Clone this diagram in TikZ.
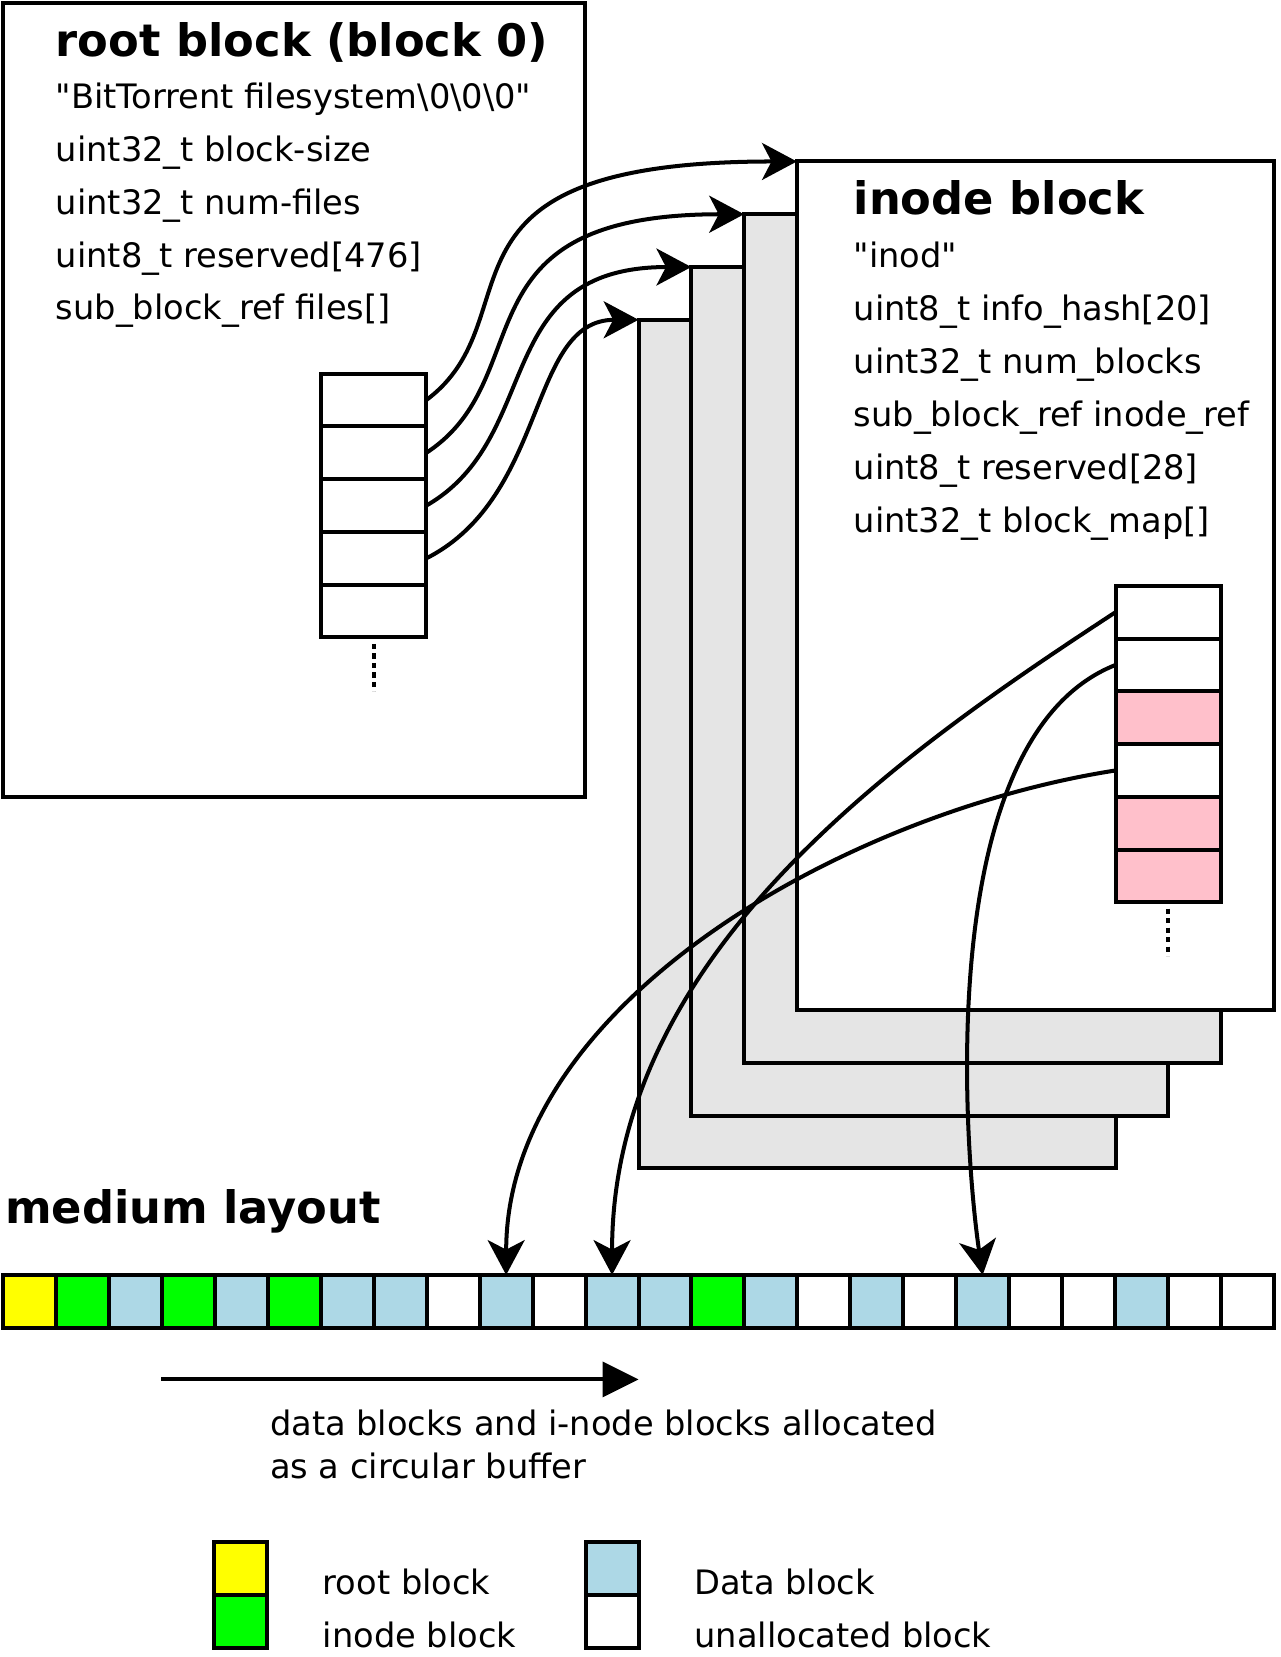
\documentclass[tikz,border=0pt]{standalone}
\usepackage{fontspec}
\setmainfont{DejaVu Sans}[Ligatures=TeXOff]
\usepackage{tikz}
\usetikzlibrary{positioning, arrows.meta, calc}
\definecolor{rootyellow}{HTML}{FFFF00}
\definecolor{inodegreen}{HTML}{00FF00}
\definecolor{datablue}{HTML}{ADD8E6}
\definecolor{refpink}{HTML}{FFC0CB}
\definecolor{stackgray}{HTML}{E5E5E5}

\begin{document}
\begin{tikzpicture}[
        x=1pt, y=-1pt,
        line width=3.8pt,
        heading/.style={font=\fontsize{42.4}{50}\selectfont\bfseries, anchor=base west, inner sep=0pt},
        field/.style={font=\fontsize{31.9}{40}\selectfont, anchor=base west, inner sep=0pt},
        frame/.style={rectangle, draw, anchor=north west, outer sep=0pt, inner sep=0pt},
        sheet/.style={frame, minimum width=452pt, minimum height=804pt},
        slot/.style={frame, minimum width=100pt, minimum height=50pt},
        cell/.style={frame, minimum width=50.167pt, minimum height=50pt},
        link/.style={-{Stealth[length=33pt, width=35pt, inset=9pt]}},
        dots/.style={dash pattern=on 5pt off 4pt}
    ]
    \useasboundingbox (0,0) rectangle (1213,1570);

    % root block with its fields
    \node[frame, minimum width=551pt, minimum height=752pt] (root) at (3,3) {};
    \node[heading] (roottitle) at (51,54) {root block (block 0)};
    \foreach \txt [count=\i] in {"BitTorrent filesystem\textbackslash 0\textbackslash 0\textbackslash 0", uint32\_t block-size, uint32\_t num-files, uint8\_t reserved[476], sub\_block\_ref files[]} {
        \node[field] at (51, 53+50*\i) {\txt};
    }
    \foreach \i in {1,...,5} {
        \node[slot] (r\i) at (304, 304+50*\i) {};
    }
    \draw[dots] ([yshift=-6pt]r5.south) -- ([yshift=-51pt]r5.south);

    % stack of inode blocks, front one last
    \foreach \k in {0,1,2} {
        \node[sheet, fill=stackgray] (sheet\k) at (605+50*\k, 303-50*\k) {};
    }
    \node[sheet, fill=white] (sheet3) at (755,153) {};
    \node[heading] (inodetitle) at (807,203) {inode block};
    \foreach \txt [count=\i] in {"inod", uint8\_t info\_hash[20], uint32\_t num\_blocks, sub\_block\_ref inode\_ref, uint8\_t reserved[28], uint32\_t block\_map[]} {
        \node[field] at (807, 203+50.3*\i) {\txt};
    }
    \foreach \i/\c in {1/white, 2/white, 3/refpink, 4/white, 5/refpink, 6/refpink} {
        \node[slot, fill=\c] (b\i) at (1057, 505+50*\i) {};
    }
    \draw[dots] ([yshift=-6pt]b6.south) -- ([yshift=-51pt]b6.south);

    % medium layout
    \node[heading] (mediumtitle) at (3,1159) {medium layout};
    \foreach \c [count=\i from 0] in {rootyellow, inodegreen, datablue, inodegreen, datablue, inodegreen, datablue, datablue, white, datablue, white, datablue, datablue, inodegreen, datablue, white, datablue, white, datablue, white, white, datablue, white, white} {
        \node[cell, fill=\c] (m\i) at (3+50.167*\i, 1208) {};
    }

    \coordinate (flowstart) at (153,1307);
    \coordinate (flowend) at (605,1307);
    \draw[-{Triangle[length=34pt, width=33pt]}] (flowstart) -- (flowend);
    \node[field] (flownote) at (254,1360) {data blocks and i-node blocks allocated};
    \node[field] at (254,1401) {as a circular buffer};

    % legend
    \node[cell, minimum width=50pt, fill=rootyellow] (keyroot) at (203,1461) {};
    \node[cell, minimum width=50pt, fill=inodegreen] (keyinode) at (203,1511) {};
    \node[field] at (304,1511) {root block};
    \node[field] at (304,1561) {inode block};
    \node[cell, minimum width=50pt, fill=datablue] (keydata) at (555,1461) {};
    \node[cell, minimum width=50pt, fill=white] (keyfree) at (555,1511) {};
    \node[field] at (656,1511) {Data block};
    \node[field] at (656,1561) {unallocated block};

    % references into the inode blocks
    \foreach \i/\s/\dx/\dy/\back in {1/3/106/-79/-365, 2/2/110/-72/-278, 3/1/113/-65/-192, 4/0/116/-59/-105} {
        \draw[link] (r\i.east) .. controls +(\dx,\dy) and +(\back,0) .. (sheet\s.north west);
    }

    % block map entries pointing onto the medium
    \draw[link] (b1.west) .. controls +(-200,131) and +(0,-307) .. (m11.north);
    \draw[link] (b2.west) .. controls +(-177,70) and +(-16,-107) .. (m18.north);
    \draw[link] (b4.west) .. controls +(-257,40) and +(0,-257) .. (m9.north);
\end{tikzpicture}
\end{document}
